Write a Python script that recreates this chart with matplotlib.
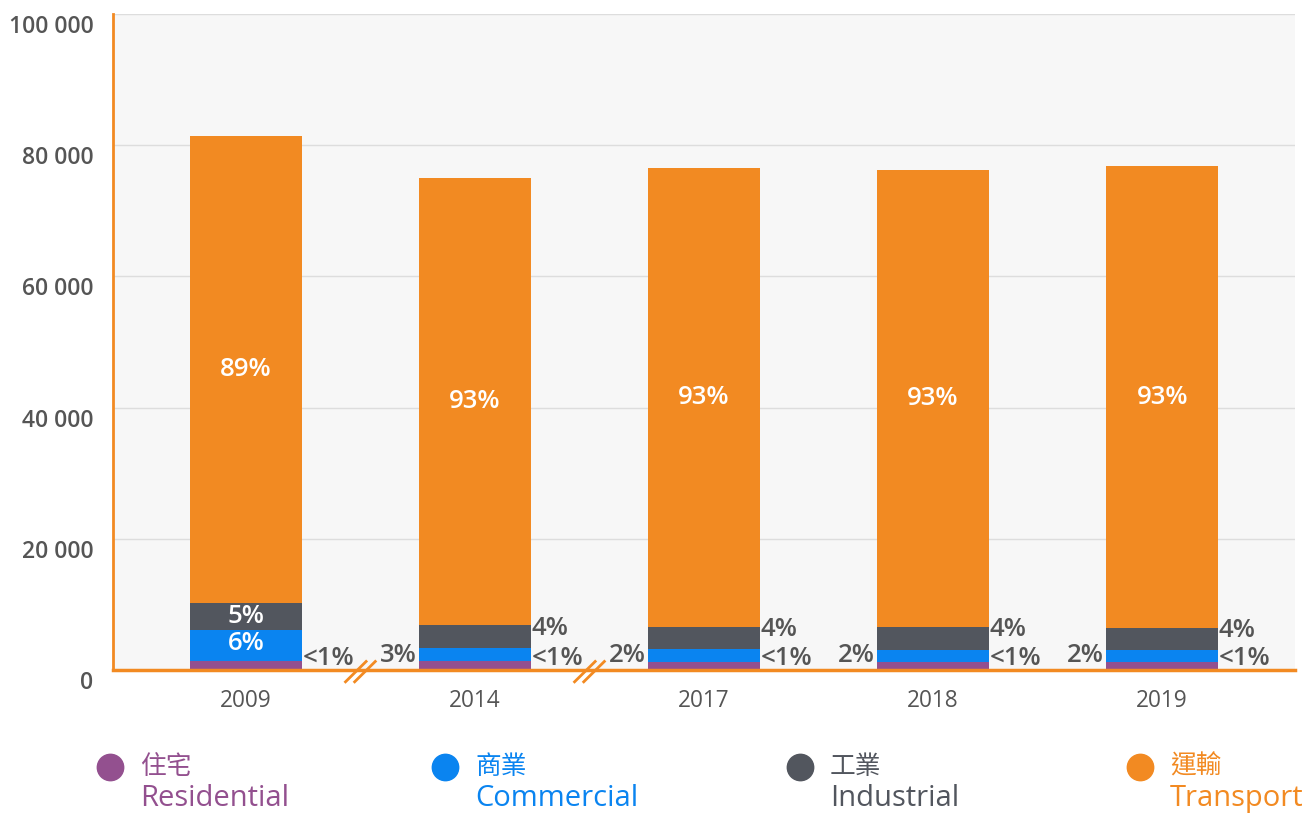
import numpy as np
import matplotlib
matplotlib.use("Agg")
import matplotlib.pyplot as plt
import matplotlib.transforms as mtransforms
from matplotlib.lines import Line2D

# --- data ---
years = ["2009", "2014", "2017", "2018", "2019"]
residential = [1400, 1400, 1250, 1250, 1250]
commercial = [4700, 2000, 1950, 1800, 1800]
industrial = [4100, 3400, 3350, 3500, 3350]
transport = [71200, 68200, 69950, 69650, 70400]

transport_pct = ["89%", "93%", "93%", "93%", "93%"]
industrial_pct = ["5%", "4%", "4%", "4%", "4%"]
commercial_pct = ["6%", "3%", "2%", "2%", "2%"]
residential_pct = ["<1%", "<1%", "<1%", "<1%", "<1%"]

legend_zh = ["住宅", "商業", "工業", "運輸"]
legend_en = ["Residential", "Commercial", "Industrial", "Transport"]

# --- style ---
C_RES = "#93508f"
C_COM = "#0a84f0"
C_IND = "#52565e"
C_TRA = "#f28a22"
GREY = "#555555"
colors = [C_RES, C_COM, C_IND, C_TRA]

plt.rcParams['font.family'] = ['Open Sans', 'Noto Sans CJK TC', 'DejaVu Sans']

fig = plt.figure(figsize=(13.04, 8.13), dpi=100)
ax = fig.add_axes([113 / 1304, 1 - 670 / 813, (1295 - 113) / 1304, (670 - 14) / 813])
ax.set_facecolor("#f7f7f7")

x = np.arange(len(years))
w = 0.49
res = np.array(residential)
com = np.array(commercial)
ind = np.array(industrial)
tra = np.array(transport)

ax.bar(x, res, w, color=C_RES, zorder=3)
ax.bar(x, com, w, bottom=res, color=C_COM, zorder=3)
ax.bar(x, ind, w, bottom=res + com, color=C_IND, zorder=3)
ax.bar(x, tra, w, bottom=res + com + ind, color=C_TRA, zorder=3)

ax.set_xlim(-0.58, 4.58)
ax.set_ylim(0, 100000)
ax.set_yticks(np.arange(0, 100001, 20000))
ax.set_yticklabels([f"{v:,}".replace(",", " ") for v in range(0, 100001, 20000)])
ax.grid(axis="y", color="#dddddd", linewidth=1, zorder=0)
ax.set_xticks(x)
ax.set_xticklabels(years)

ax.tick_params(axis="y", length=0, pad=14, labelsize=16.5, labelcolor=GREY)
ax.tick_params(axis="x", length=0, pad=14, labelsize=16.3, labelcolor=GREY)
shift = mtransforms.ScaledTranslation(0, -10 / 100, fig.dpi_scale_trans)
for lab in ax.get_yticklabels():
    lab.set_fontweight("semibold")
    lab.set_transform(lab.get_transform() + shift)

for s in ["top", "right"]:
    ax.spines[s].set_visible(False)
ax.spines["left"].set_color(C_TRA)
ax.spines["left"].set_linewidth(2)
ax.spines["bottom"].set_color(C_TRA)
ax.spines["bottom"].set_linewidth(2.5)
ax.spines["left"].set_zorder(5)
ax.spines["bottom"].set_zorder(5)

# axis break marks
for bx in [0.5, 1.5]:
    for off in [-0.02, 0.02]:
        ax.plot([bx + off - 0.045, bx + off + 0.045], [-1800, 1300],
                color=C_TRA, lw=2, clip_on=False, zorder=6)

# labels
lab_kw = dict(fontsize=18.5, fontweight="semibold")
for i in range(len(years)):
    top_ind = res[i] + com[i] + ind[i]
    ax.text(x[i], top_ind + tra[i] / 2, transport_pct[i], color="white",
            ha="center", va="center", zorder=4, **lab_kw)
    if i == 0:
        ax.text(x[i], res[i] + com[i] + ind[i] / 2, industrial_pct[i], color="white",
                ha="center", va="center", zorder=4, **lab_kw)
        ax.text(x[i], res[i] + com[i] / 2 + 300, commercial_pct[i], color="white",
                ha="center", va="center", zorder=4, **lab_kw)
    else:
        ax.text(x[i] + w / 2 + 0.002, top_ind - 400, industrial_pct[i], color=GREY,
                ha="left", va="center", zorder=4, **lab_kw)
        ax.text(x[i] - w / 2 - 0.008, 2200, commercial_pct[i], color=GREY,
                ha="right", va="center", zorder=4, **lab_kw)
    ax.text(x[i] + w / 2 + 0.002, 1700, residential_pct[i], color=GREY,
            ha="left", va="center", zorder=4, **lab_kw)

# legend
leg_x = [110, 445, 800, 1140]
for i in range(4):
    cx = leg_x[i] / 1304
    fig.add_artist(Line2D([cx], [1 - 767 / 813], marker="o", markersize=19,
                          color=colors[i], linestyle="none", transform=fig.transFigure))
    fig.text(cx + 30 / 1304, 1 - 767 / 813, legend_zh[i], color=colors[i],
             fontsize=18.5, ha="left", va="center")
    fig.text(cx + 30 / 1304, 1 - 798 / 813, legend_en[i], color=colors[i],
             fontsize=21, ha="left", va="center")

fig.savefig("out.png", dpi=100)
